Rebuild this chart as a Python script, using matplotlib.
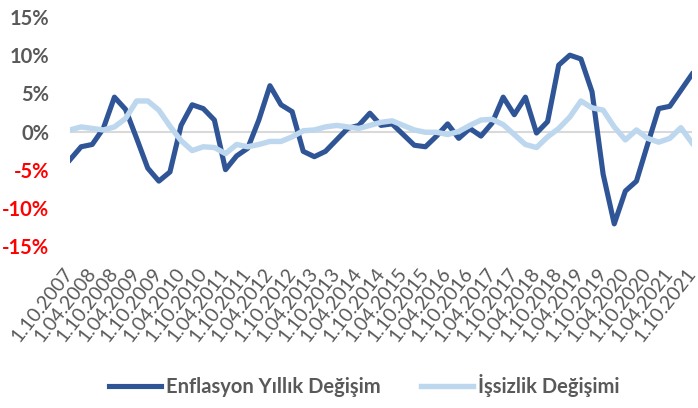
import pandas as pd
import matplotlib
matplotlib.use("Agg")
import matplotlib.pyplot as plt

plt.rcParams['font.family'] = ['Lato', 'DejaVu Sans']

# quarterly dates, labels every second quarter
dates = pd.date_range("2007-10-01", "2021-10-01", freq="3MS")
tick_labels = [f"{d.day}.{d.month:02d}.{d.year}" for d in dates[::2]]

# values in percent
enflasyon = [-3.7, -2.0, -1.7, 0.4, 4.5, 2.9, -0.9, -4.8, -6.5, -5.3,
             0.8, 3.5, 3.0, 1.5, -5.0, -3.2, -2.2, 1.5, 6.0, 3.5,
             2.6, -2.6, -3.3, -2.6, -1.1, 0.4, 0.8, 2.4, 0.8, 1.0,
             -0.4, -1.8, -2.0, -0.6, 1.0, -0.9, 0.4, -0.6, 1.1, 4.5,
             2.2, 4.5, -0.2, 1.3, 8.7, 10.0, 9.5, 5.2, -5.6, -12.1,
             -7.8, -6.5, -1.7, 3.0, 3.3, 5.4, 7.5]
issizlik = [0.2, 0.6, 0.4, 0.2, 0.6, 1.7, 4.0, 4.0, 2.8, 0.7,
            -1.2, -2.5, -2.0, -2.1, -2.9, -1.7, -2.0, -1.7, -1.3, -1.3,
            -0.7, 0.1, 0.2, 0.6, 0.8, 0.6, 0.4, 0.8, 1.2, 1.4,
            0.8, 0.2, -0.1, -0.1, -0.4, 0.0, 0.8, 1.5, 1.6, 0.9,
            -0.4, -1.7, -2.1, -0.7, 0.4, 1.9, 4.0, 3.1, 2.8, 0.6,
            -1.1, 0.2, -0.9, -1.4, -0.9, 0.5, -1.5]
y_ticks = [-15, -10, -5, 0, 5, 10, 15]

gray = "#595959"
x = list(range(len(dates)))

fig = plt.figure(figsize=(6.98, 4.08), dpi=100)
ax = fig.add_axes([70 / 698, 1 - 246 / 408, 622 / 698, 229 / 408])

ax.axhline(0, color="#d9d9d9", lw=1.5, zorder=1)
ax.plot(x, enflasyon, color="#2F5597", lw=3.7, solid_joinstyle="round",
        label="Enflasyon Yıllık Değişim", zorder=3)
ax.plot(x, issizlik, color="#BDD7EE", lw=3.9, solid_joinstyle="round",
        label="İşsizlik Değişimi", zorder=4)

ax.set_xlim(0, len(dates) - 1)
ax.set_ylim(-15, 15)
ax.set_yticks(y_ticks)
ax.set_yticklabels([f"{v}%" for v in y_ticks], fontsize=14.5, fontweight="bold")
for lab, v in zip(ax.get_yticklabels(), y_ticks):
    lab.set_color("red" if v < 0 else gray)

ax.set_xticks(x[::2])
ax.set_xticklabels(tick_labels, rotation=52, ha="right", va="center",
                   rotation_mode="anchor", fontsize=14, color=gray)
ax.tick_params(axis="x", length=0, pad=17)
ax.tick_params(axis="y", length=0, pad=15)
for s in ax.spines.values():
    s.set_visible(False)

fig.legend(loc="center", bbox_to_anchor=(0.522, 0.056), ncol=2, frameon=False,
           handlelength=2.6, handletextpad=0.25, columnspacing=2.0,
           prop={"size": 14.5, "weight": "bold"}, labelcolor=gray)

fig.savefig("out.png", dpi=100)
